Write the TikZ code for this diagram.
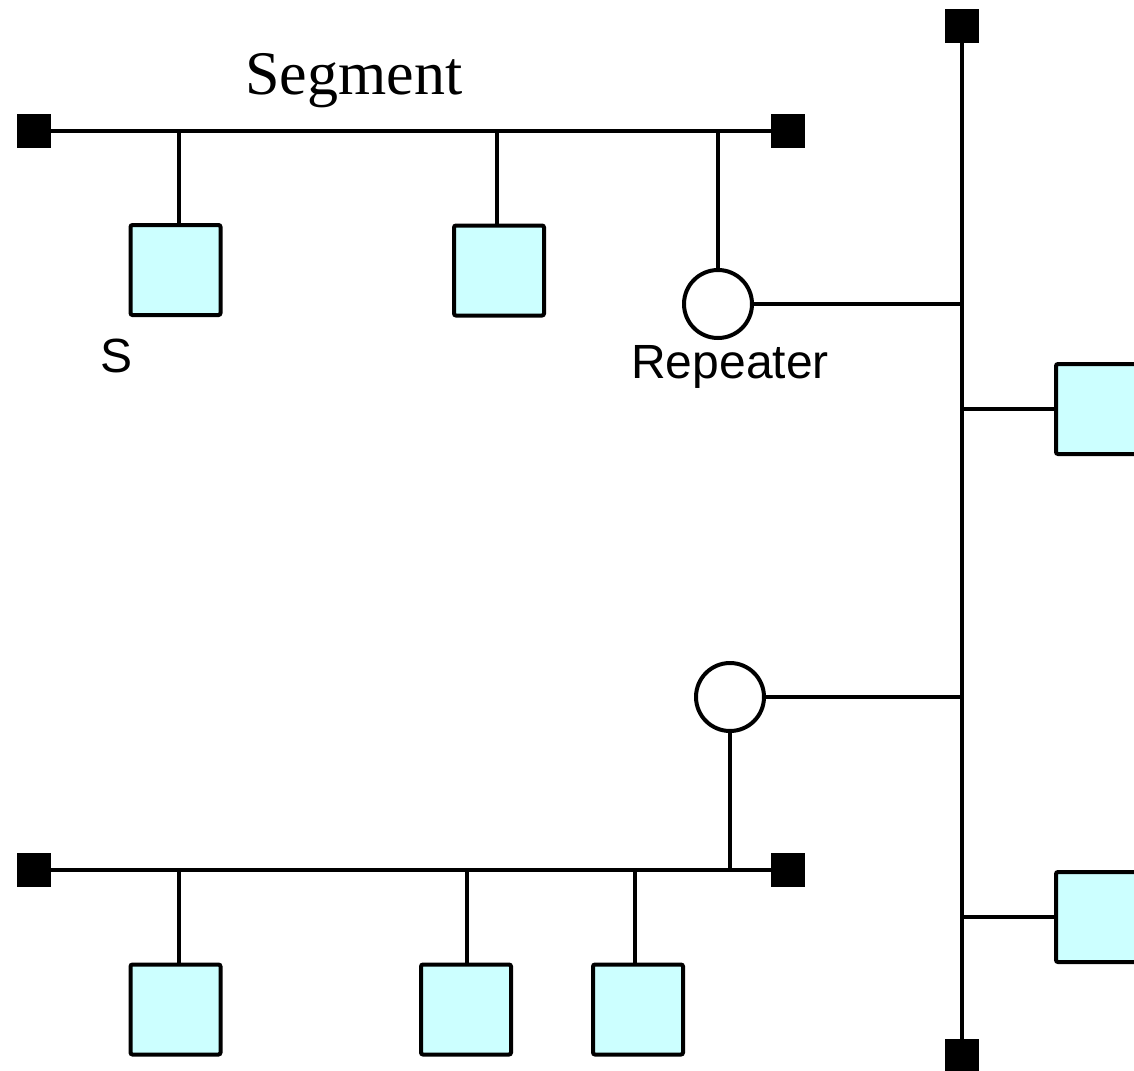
\documentclass[tikz,border=0pt]{standalone}
\usepackage{fontspec}
\setmainfont{Liberation Serif}
\setsansfont{Liberation Sans}
\definecolor{hostcyan}{HTML}{CCFFFF}
\begin{document}
\begin{tikzpicture}[
    x=0.5pt,y=-0.5pt,
    every node/.style={inner sep=0pt, outer sep=0pt},
    wire/.style={draw=black, line width=2pt},
    term/.style={fill=black, minimum size=17pt},
    host/.style={draw=black, line width=2pt, fill=hostcyan, minimum size=45pt, rounded corners=1pt},
    repeater/.style={circle, draw=black, line width=2pt, fill=white, minimum size=34pt},
    lbl/.style={font=\sffamily\fontsize{24}{28}\selectfont, anchor=base}
]
    \useasboundingbox (0,0) rectangle (1134,1070);

    % upper segment
    \node[font=\fontsize{31}{36}\selectfont, anchor=base] (segtitle) at (354,95) {Segment};
    \node[term] (utl) at (34,131) {};
    \node[term] (utr) at (788,131) {};
    \node[host] (uh1) at (175.5,270) {};
    \node[host] (uh2) at (499,270.5) {};
    \node[repeater] (urep) at (718,304) {};
    \node[lbl] (slbl) at (117,372) {S};
    \node[lbl] (replbl) at (730,378) {Repeater};
    \coordinate (ua) at (179,131);
    \coordinate (ub) at (497,131);
    \coordinate (uc) at (718,131);
    \draw[wire] (utl) -- (utr);
    \draw[wire] (ua) -- (ua |- uh1.north);
    \draw[wire] (ub) -- (ub |- uh2.north);
    \draw[wire] (uc) -- (urep.north);

    % backbone
    \node[term] (btop) at (962,26) {};
    \node[term] (bbot) at (962,1056) {};
    \node[host] (rh1) at (1101,409) {};
    \node[host] (rh2) at (1101,917) {};
    \draw[wire] (btop) -- (bbot);
    \draw[wire] (urep.east) -- (urep.east -| btop);
    \draw[wire] (rh1.west -| btop) -- (rh1.west);
    \draw[wire] (rh2.west -| btop) -- (rh2.west);

    % lower segment
    \node[repeater] (lrep) at (730,697) {};
    \node[term] (ltl) at (34,870) {};
    \node[term] (ltr) at (788,870) {};
    \node[host] (lh1) at (175.5,1009.5) {};
    \node[host] (lh2) at (466,1009.5) {};
    \node[host] (lh3) at (638,1009.5) {};
    \coordinate (la) at (179,870);
    \coordinate (lb) at (467,870);
    \coordinate (lc) at (635,870);
    \coordinate (ld) at (730,870);
    \draw[wire] (ltl) -- (ltr);
    \draw[wire] (la) -- (la |- lh1.north);
    \draw[wire] (lb) -- (lb |- lh2.north);
    \draw[wire] (lc) -- (lc |- lh3.north);
    \draw[wire] (lrep.south) -- (ld);
    \draw[wire] (lrep.east) -- (lrep.east -| btop);
\end{tikzpicture}
\end{document}
